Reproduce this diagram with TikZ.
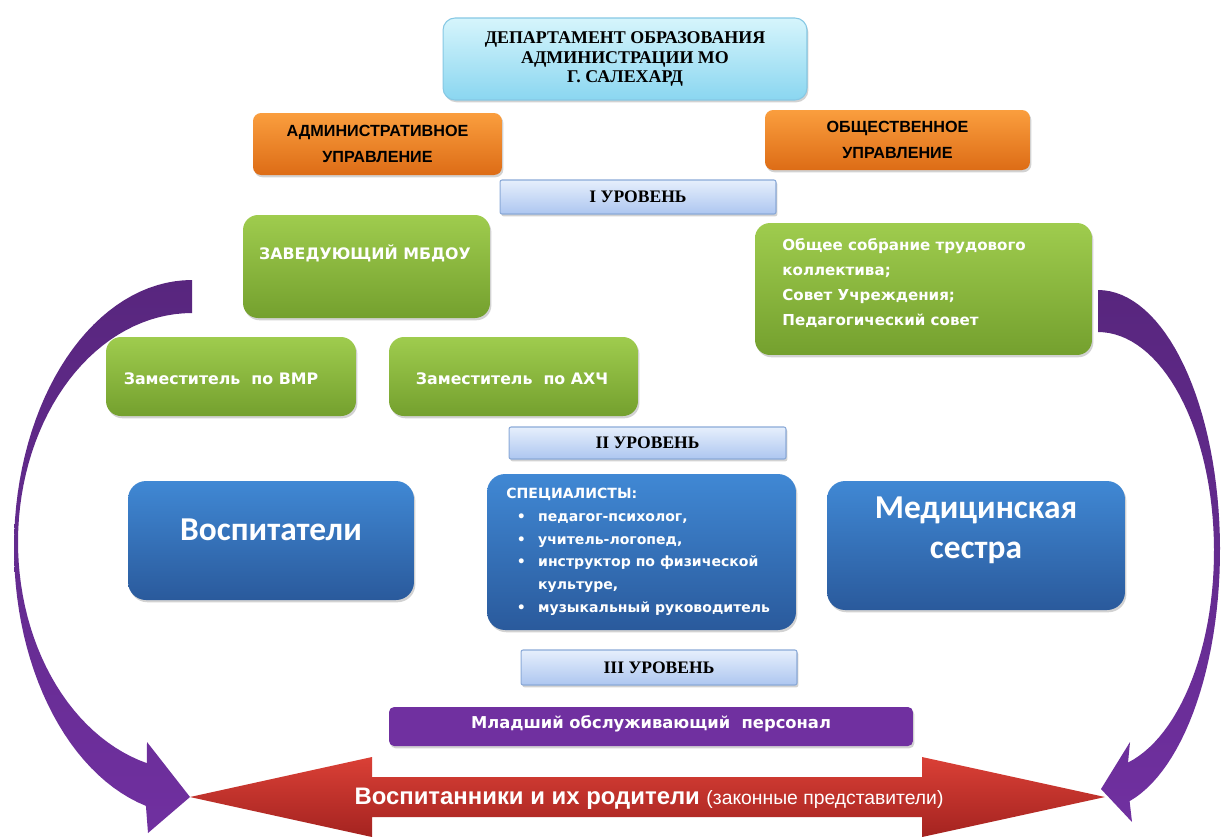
\documentclass[tikz,border=0pt]{standalone}
\usepackage{fontspec}
\setmainfont{Liberation Serif}
\newfontfamily\tahfont{DejaVu Sans}
\newfontfamily\calfont{Carlito}
\newfontfamily\arfont{Liberation Sans}
\usetikzlibrary{shadows}
\definecolor{cyanT}{HTML}{D6F5FC}
\definecolor{cyanB}{HTML}{8AD6F0}
\definecolor{cyanD}{HTML}{86C8E4}
\definecolor{orT}{HTML}{FA9E3E}
\definecolor{orB}{HTML}{DD6C16}
\definecolor{lvT}{HTML}{E6EFFC}
\definecolor{lvB}{HTML}{ADC6F0}
\definecolor{lvD}{HTML}{8BAAD8}
\definecolor{grT}{HTML}{9FCC4E}
\definecolor{grB}{HTML}{74A02E}
\definecolor{blT}{HTML}{4088D4}
\definecolor{blB}{HTML}{2A5A9C}
\definecolor{purp}{HTML}{7030A0}
\definecolor{purpD}{HTML}{58267E}
\definecolor{rdT}{HTML}{DA4036}
\definecolor{rdB}{HTML}{A42320}
\tikzset{
  shad/.style={drop shadow={opacity=0.35,shadow xshift=0.8pt,shadow yshift=-1.3pt}},
  basebox/.style={shad,inner sep=0pt,align=center},
  topbox/.style={basebox,rounded corners=0.24cm,top color=cyanT,bottom color=cyanB,draw=cyanD,line width=0.6pt,
    font=\bfseries\fontsize{10.2}{11}\selectfont},
  orbox/.style={basebox,rounded corners=0.16cm,top color=orT,bottom color=orB,
    font=\arfont\bfseries\fontsize{9.2}{15}\selectfont},
  lvbox/.style={basebox,rounded corners=0.04cm,top color=lvT,bottom color=lvB,draw=lvD,line width=0.6pt,
    font=\bfseries\fontsize{10}{12}\selectfont},
  grbox/.style={basebox,rounded corners=0.3cm,top color=grT,bottom color=grB},
  blbox/.style={basebox,rounded corners=0.36cm,top color=blT,bottom color=blB},
  pubox/.style={basebox,rounded corners=0.1cm,fill=purp},
  wtext/.style={text=white,inner sep=0pt,align=center},
  grtext/.style={wtext,font=\tahfont\bfseries\fontsize{9}{14}\selectfont},
  bigtext/.style={wtext,font=\calfont\bfseries\fontsize{19}{22.7}\selectfont},
  purparrow/.style={top color=purpD,bottom color=purp}
}
\begin{document}
\begin{tikzpicture}[x=0.02cm,y=-0.02cm]
\useasboundingbox[fill=white] (0,0) rectangle (1222,836);

% curved purple arrows
\shade[purparrow]
  plot[domain=-90:-255,samples=60,variable=\t] ({192+178*cos(\t)},{547.5+267.5*sin(\t)})
  -- (148,833) -- (190,797) -- (147,742)
  -- plot[domain=-255:-90,samples=60,variable=\t] ({192+174*cos(\t)},{542+229*sin(\t)})
  -- cycle;
\shade[purparrow]
  plot[domain=-90:75,samples=60,variable=\t] ({1098+122*cos(\t)},{550+260*sin(\t)})
  -- (1132,822) -- (1101,789) -- (1130,742)
  -- plot[domain=75:-90,samples=60,variable=\t] ({1098+116*cos(\t)},{551+219*sin(\t)})
  -- cycle;

% red double arrow
\shade[top color=rdT,bottom color=rdB]
  (190,797) -- (372,757) -- (372,777) -- (922,777) -- (922,757) -- (1105,797)
  -- (922,837) -- (922,817) -- (372,817) -- (372,837) -- cycle;
\node[wtext,font=\arfont\bfseries\fontsize{13.6}{15}\selectfont] (pupils) at (649,799)
  {Воспитанники и их родители {\mdseries\fontsize{11}{12}\selectfont(законные представители)}};

% top
\node[topbox,minimum width=7.28cm,minimum height=1.64cm] (dep) at (625,59)
  {ДЕПАРТАМЕНТ ОБРАЗОВАНИЯ\\АДМИНИСТРАЦИИ МО\\Г. САЛЕХАРД};

% orange
\node[orbox,minimum width=4.98cm,minimum height=1.24cm] (adm) at (377.5,144)
  {АДМИНИСТРАТИВНОЕ\\УПРАВЛЕНИЕ};
\node[orbox,minimum width=5.3cm,minimum height=1.2cm] (obsh) at (897.5,140)
  {ОБЩЕСТВЕННОЕ\\УПРАВЛЕНИЕ};

% levels
\node[lvbox,minimum width=5.52cm,minimum height=0.68cm] (lvA) at (638,197) {I УРОВЕНЬ};
\node[lvbox,minimum width=5.54cm,minimum height=0.64cm] (lvB) at (647.5,443) {II УРОВЕНЬ};
\node[lvbox,minimum width=5.52cm,minimum height=0.7cm] (lvC) at (659,667.5) {III УРОВЕНЬ};

% green
\node[grbox,minimum width=4.94cm,minimum height=2.06cm] (zav) at (366.5,266.5) {};
\node[grtext] (zavt) at (365,253) {ЗАВЕДУЮЩИЙ МБДОУ};
\node[grbox,minimum width=6.74cm,minimum height=2.64cm] (sobr) at (923.5,289) {};
\node[grtext,align=left,anchor=west,font=\tahfont\bfseries\fontsize{8.6}{14.1}\selectfont] (sobrt) at (782,283)
  {Общее собрание трудового\\коллектива;\\Совет Учреждения;\\Педагогический совет};
\node[grbox,minimum width=5cm,minimum height=1.58cm] (vmr) at (231,376.5) {};
\node[grtext] (vmrt) at (221,379) {Заместитель\ \ по ВМР};
\node[grbox,minimum width=4.98cm,minimum height=1.58cm] (ahch) at (513.5,376.5) {};
\node[grtext] (ahcht) at (512,379) {Заместитель\ \ по АХЧ};

% blue
\node[blbox,minimum width=5.72cm,minimum height=2.38cm] (vosp) at (271,540.5) {};
\node[bigtext] (vospt) at (271,530) {Воспитатели};
\node[blbox,minimum width=6.18cm,minimum height=3.12cm] (spec) at (641.5,552) {};
\node[wtext,align=left,anchor=north west,font=\tahfont\bfseries\fontsize{8}{12.9}\selectfont] (spect) at (506,488)
  {СПЕЦИАЛИСТЫ:\\
   \hspace*{6pt}•\hspace{7pt}педагог-психолог,\\
   \hspace*{6pt}•\hspace{7pt}учитель-логопед,\\
   \hspace*{6pt}•\hspace{7pt}инструктор по физической\\
   \hspace*{6pt}\phantom{•}\hspace{7pt}культуре,\\
   \hspace*{6pt}•\hspace{7pt}музыкальный руководитель};
\node[blbox,minimum width=5.96cm,minimum height=2.58cm] (med) at (976,545.5) {};
\node[bigtext] (medt) at (976,530) {Медицинская\\сестра};

% purple
\node[pubox,minimum width=10.48cm,minimum height=0.78cm] (mlad) at (651,726.5) {};
\node[wtext,font=\tahfont\bfseries\fontsize{9.3}{12}\selectfont] (mladt) at (651,724) {Младший обслуживающий\ \ персонал};
\end{tikzpicture}
\end{document}
